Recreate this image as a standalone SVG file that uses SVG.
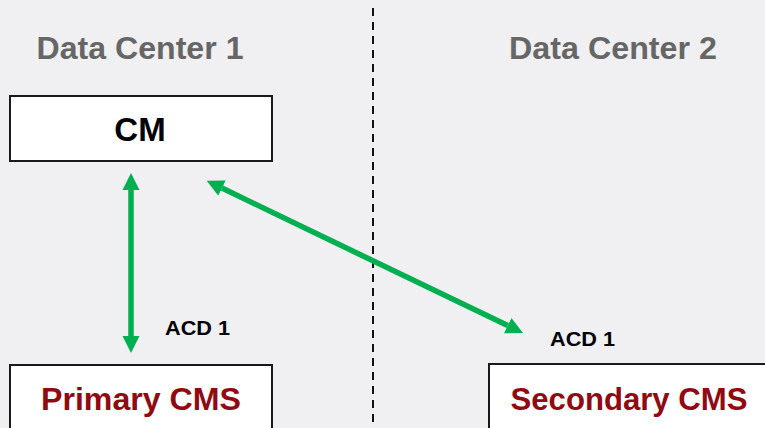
<svg xmlns="http://www.w3.org/2000/svg" width="765" height="428" viewBox="0 0 765 428">
<style>
.bg{fill:#f0f0f2}
.box{fill:#ffffff;stroke:#1a1a1a;stroke-width:2}
.hdr{font-family:"Liberation Sans",Arial,sans-serif;font-weight:bold;font-size:32px;fill:#666666;text-anchor:middle}
.cm{font-family:"Liberation Sans",Arial,sans-serif;font-weight:bold;font-size:33px;fill:#000000;text-anchor:middle}
.cms{font-family:"Liberation Sans",Arial,sans-serif;font-weight:bold;font-size:32px;fill:#8f0a12;text-anchor:middle}
.lbl{font-family:"Liberation Sans",Arial,sans-serif;font-weight:bold;font-size:21px;fill:#000000}
.conn{stroke:#00b050;stroke-width:5.5;fill:none;marker-start:url(#ah);marker-end:url(#ah)}
.div{stroke:#111111;stroke-width:2;stroke-dasharray:8 6}
</style>
<defs>
<marker id="ah" markerUnits="userSpaceOnUse" markerWidth="18" markerHeight="18" refX="0" refY="9" orient="auto-start-reverse" viewBox="0 0 18 18">
<path d="M0,0.5 L17,9 L0,17.5 z" fill="#00b050"/>
</marker>
</defs>
<rect class="bg" x="0" y="0" width="765" height="428"/>
<line class="div" x1="373" y1="8" x2="373" y2="428"/>
<text class="hdr" x="140" y="59" textLength="207" lengthAdjust="spacingAndGlyphs">Data Center 1</text>
<text class="hdr" x="613" y="59" textLength="208" lengthAdjust="spacingAndGlyphs">Data Center 2</text>
<g id="cm">
<rect class="box" x="10" y="96" width="262" height="65"/>
<text class="cm" x="140" y="141">CM</text>
</g>
<g id="primary-cms">
<rect class="box" x="10" y="365" width="262" height="70"/>
<text class="cms" x="141" y="410" textLength="200" lengthAdjust="spacingAndGlyphs">Primary CMS</text>
</g>
<g id="secondary-cms">
<rect class="box" x="489" y="364" width="282" height="70"/>
<text class="cms" x="629" y="410" textLength="237" lengthAdjust="spacingAndGlyphs">Secondary CMS</text>
</g>
<g id="connectors">
<line class="conn" x1="131" y1="190" x2="131" y2="336"/>
<line class="conn" x1="222" y1="188.1" x2="507.7" y2="325.6"/>
<text class="lbl" x="165" y="335" textLength="65" lengthAdjust="spacingAndGlyphs">ACD 1</text>
<text class="lbl" x="550" y="346" textLength="65" lengthAdjust="spacingAndGlyphs">ACD 1</text>
</g>
</svg>
